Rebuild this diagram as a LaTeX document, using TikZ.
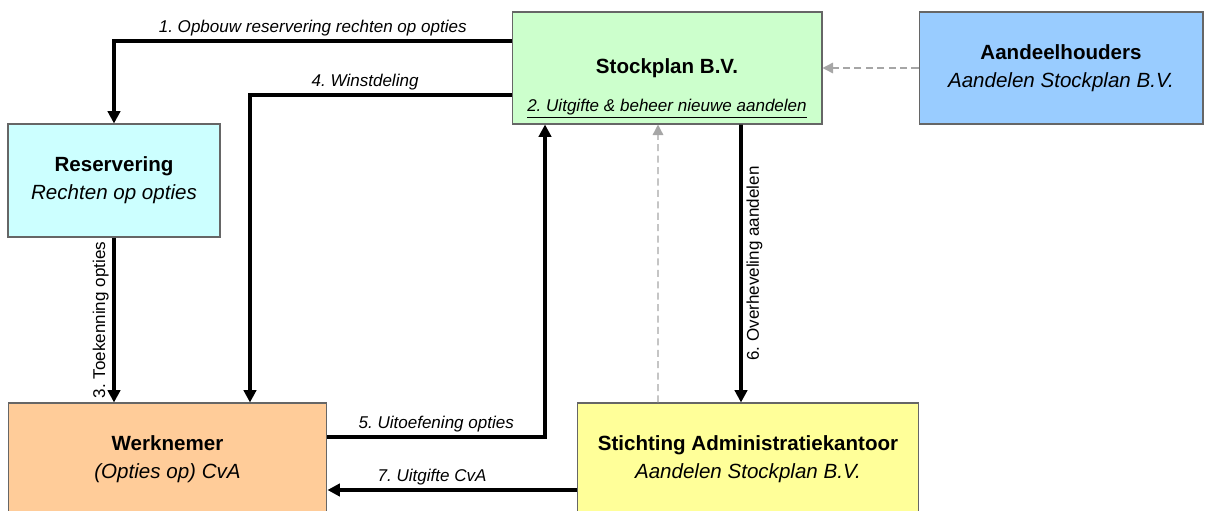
\documentclass[tikz,border=0pt]{standalone}
\usepackage{fontspec}
\setmainfont{Liberation Sans}
\frenchspacing
\definecolor{planmint}{RGB}{204,255,204}
\definecolor{ownerblue}{RGB}{153,204,255}
\definecolor{reservecyan}{RGB}{204,255,255}
\definecolor{staffpeach}{RGB}{255,204,153}
\definecolor{trustyellow}{RGB}{255,255,153}
\usetikzlibrary{positioning, arrows.meta, calc}

\begin{document}
\begin{tikzpicture}[x=0.02cm, y=-0.02cm,
    box/.style={draw=black!60, line width=0.6pt, align=center, inner sep=0pt,
                font=\fontsize{11.7}{15.9}\selectfont},
    flow/.style={-{Triangle[length=7pt, width=7pt]}, line width=2.2pt},
    hint/.style={-{Triangle[length=6pt, width=6pt]}, black!35, line width=0.8pt,
                 dash pattern=on 4pt off 2.5pt},
    lbl/.style={font=\fontsize{9.7}{11}\selectfont\itshape, inner sep=2pt},
    uplbl/.style={font=\fontsize{9.7}{11}\selectfont, inner sep=2pt}]
  \useasboundingbox (0,0) rectangle (1205,511);
  \clip (0,0) rectangle (1205,511);

  % boxes
  \node[box, fill=planmint, minimum width=6.2cm, minimum height=2.24cm]
       (stock) at (667,68) {\textbf{Stockplan B.V.}};
  \node[lbl] (stocknote) at ([yshift=0.32cm]stock.south)
       {\underline{2. Uitgifte \& beheer nieuwe aandelen}};
  \node[box, fill=ownerblue, minimum width=5.68cm, minimum height=2.24cm]
       (owners) at (1061,68) {\textbf{Aandeelhouders}\\ \textit{Aandelen Stockplan B.V.}};
  \node[box, fill=reservecyan, minimum width=4.24cm, minimum height=2.26cm]
       (reserv) at (114,180.5) {\textbf{Reservering}\\ \textit{Rechten op opties}};
  \node[box, fill=staffpeach, minimum width=6.38cm, minimum height=2.26cm]
       (staff) at (167.5,459.5) {\textbf{Werknemer}\\ \textit{(Opties op) CvA}};
  \node[box, fill=trustyellow, minimum width=6.84cm, minimum height=2.26cm]
       (trust) at (748,459.5) {\textbf{Stichting Administratiekantoor}\\ \textit{Aandelen Stockplan B.V.}};

  % flows
  \draw[flow] ([yshift=0.54cm]stock.west) -| (reserv.north)
       node[lbl, pos=0.25, above] {1. Opbouw reservering rechten op opties};
  \draw[flow] ([yshift=-0.54cm]stock.west) -| ([xshift=1.65cm]staff.north)
       node[lbl, pos=0.28, above] {4. Winstdeling};
  \draw[flow] (reserv.south) -- (reserv.south |- staff.north)
       node[uplbl, midway, rotate=90, anchor=south] {3. Toekenning opties};
  \draw[flow] ([yshift=0.45cm]staff.east) -| ([xshift=-2.44cm]stock.south)
       node[lbl, pos=0.25, above] {5. Uitoefening opties};
  \draw[flow] ([xshift=1.48cm]stock.south) -- ([xshift=-0.14cm]trust.north)
       node[uplbl, midway, rotate=90, anchor=north] {6. Overheveling aandelen};
  \draw[flow] ([yshift=-0.61cm]trust.west) -- ([yshift=-0.61cm]staff.east)
       node[lbl, pos=0.58, above] {7. Uitgifte CvA};

  % ownership hints
  \draw[hint] (owners.west) -- (stock.east);
  \draw[hint] ([xshift=-1.8cm]trust.north) -- ([xshift=-0.18cm]stock.south);
\end{tikzpicture}
\end{document}
